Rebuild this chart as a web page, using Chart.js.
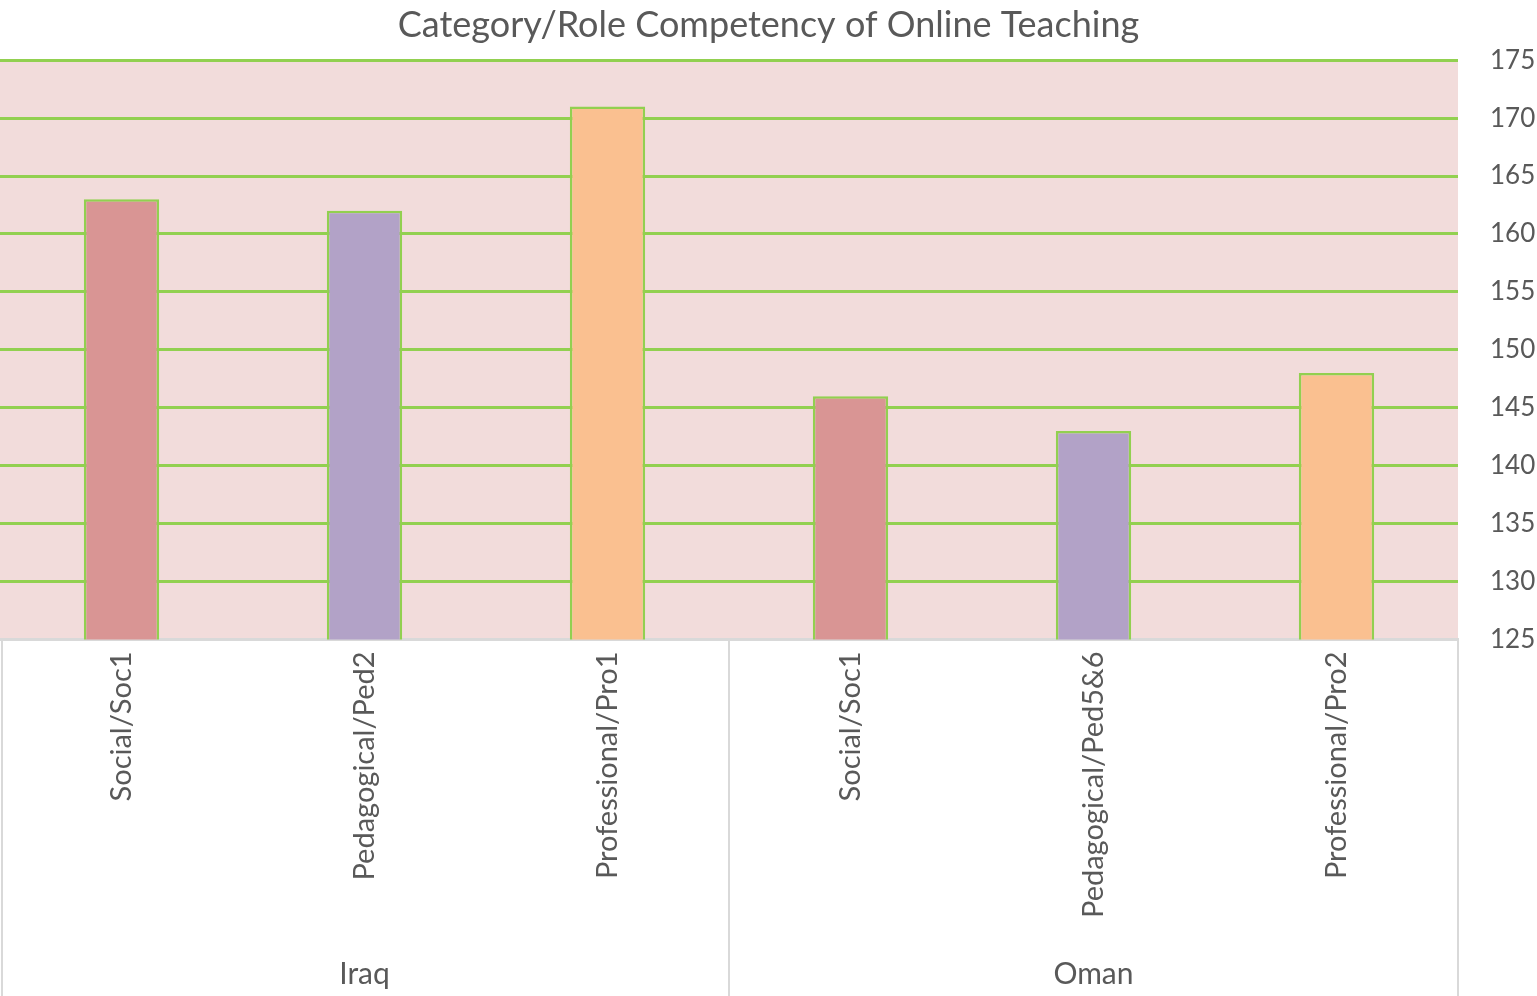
<!DOCTYPE html>
<html>
<head>
<meta charset="utf-8">
<script src="https://cdn.jsdelivr.net/npm/chart.js@4"></script>
<style>
  body { margin: 0; background: #fff; }
  #wrap { width: 1537px; height: 996px; position: relative; }
</style>
</head>
<body>
<div id="wrap"><canvas id="chart"></canvas></div>
<script>
const categories = ['Social/Soc1', 'Pedagogical/Ped2', 'Professional/Pro1', 'Social/Soc1', 'Pedagogical/Ped5&6', 'Professional/Pro2'];
const values = [163, 162, 171, 146, 143, 148];
const groups = ['Iraq', 'Oman'];
const groupSizes = [3, 3];
const barColors = ['#d99594', '#b2a2c7', '#fac090', '#d99594', '#b2a2c7', '#fac090'];

const textColor = '#595959';
const fontFamily = 'Lato, "Open Sans", sans-serif';

// pink plot background + group separators and labels under the axis
const groupPlugin = {
    id: 'groupPlugin',
    beforeDraw(chart) {
        const { ctx, chartArea } = chart;
        ctx.save();
        ctx.fillStyle = '#f2dcdb';
        ctx.fillRect(chartArea.left, chartArea.top, chartArea.right - chartArea.left, chartArea.bottom - chartArea.top);
        ctx.restore();
    },
    afterDraw(chart) {
        const { ctx, chartArea } = chart;
        const x = chart.scales.x;
        const h = chart.height;
        const half = (x.getPixelForTick(1) - x.getPixelForTick(0)) / 2;
        ctx.save();
        ctx.strokeStyle = '#d9d9d9';
        ctx.lineWidth = 2;
        ctx.fillStyle = textColor;
        ctx.font = '30px ' + fontFamily;
        ctx.textAlign = 'center';
        ctx.textBaseline = 'middle';
        let start = 0;
        groups.forEach((g, i) => {
            const left = x.getPixelForTick(start) - half;
            const right = x.getPixelForTick(start + groupSizes[i] - 1) + half;
            ctx.beginPath();
            ctx.moveTo(left + (i === 0 ? 2 : 0), chartArea.bottom);
            ctx.lineTo(left + (i === 0 ? 2 : 0), h);
            ctx.moveTo(right, chartArea.bottom);
            ctx.lineTo(right, h);
            ctx.stroke();
            ctx.fillText(g, (left + right) / 2, h - 22);
            start += groupSizes[i];
        });
        ctx.restore();
    }
};

new Chart(document.getElementById('chart'), {
    type: 'bar',
    data: {
        labels: categories,
        datasets: [{
            data: values,
            backgroundColor: barColors,
            borderColor: '#92d050',
            borderWidth: 2.5,
            borderSkipped: 'bottom',
            barPercentage: 0.31,
            categoryPercentage: 1
        }]
    },
    options: {
        responsive: true,
        maintainAspectRatio: false,
        animation: false,
        layout: { padding: { left: 0, right: 0, top: 0, bottom: 66 } },
        plugins: {
            legend: { display: false },
            tooltip: { enabled: false },
            title: {
                display: true,
                text: 'Category/Role Competency of Online Teaching',
                color: textColor,
                font: { family: fontFamily, size: 36, weight: 'normal' },
                padding: { top: 4, bottom: 13 }
            }
        },
        scales: {
            x: {
                grid: { display: false, drawTicks: false },
                border: { display: true, color: '#d9d9d9', width: 2 },
                ticks: {
                    color: textColor,
                    font: { family: fontFamily, size: 29 },
                    minRotation: 90,
                    maxRotation: 90,
                    padding: 12
                }
            },
            y: {
                position: 'right',
                min: 125,
                max: 175,
                afterFit: (scale) => { scale.width = 79; },
                grid: {
                    color: (c) => c.tick && c.tick.value === 125 ? '#d9d9d9' : '#92d050',
                    lineWidth: 3,
                    drawTicks: false
                },
                border: { display: false },
                ticks: {
                    stepSize: 5,
                    color: textColor,
                    font: { family: fontFamily, size: 26 },
                    padding: 32
                }
            }
        }
    },
    plugins: [groupPlugin]
});
</script>
</body>
</html>
